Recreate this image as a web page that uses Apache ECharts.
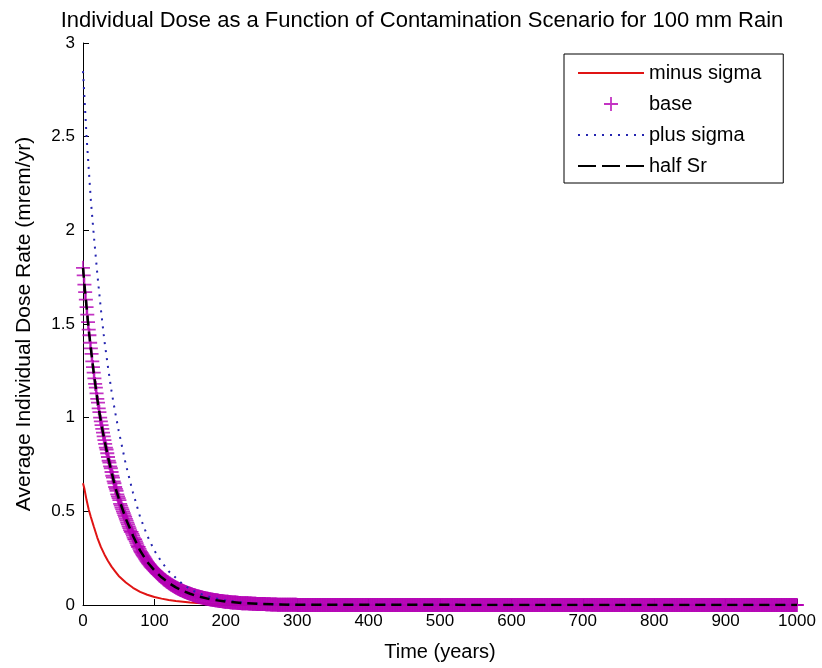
<!DOCTYPE html>
<html>
<head>
<meta charset="utf-8">
<script src="https://cdn.jsdelivr.net/npm/echarts@6/dist/echarts.min.js"></script>
<style>html,body{margin:0;padding:0;background:#fff}#c{width:822px;height:668px}</style>
</head>
<body>
<div id="c"></div>
<script>
// ---- data ----
const chartTitle = 'Individual Dose as a Function of Contamination Scenario for 100 mm Rain';
const xTitle = 'Time (years)';
const yTitle = 'Average Individual Dose Rate (mrem/yr)';
const seriesNames = ['minus sigma', 'base', 'plus sigma', 'half Sr'];

// years for the line series (minus sigma, plus sigma, half Sr)
const lineYears = [0,2,5,8,11,15,20,25,30,35,40,45,50,60,70,80,90,100,110,120,130,140,150,160,180,200,225,250,300,1000];
const minusSigma = [0.65,0.62,0.56,0.51,0.47,0.42,0.36,0.31,0.27,0.235,0.205,0.18,0.155,0.12,0.092,0.07,0.055,0.043,0.034,0.027,0.021,0.017,0.013,0.011,0.007,0.004,0.002,0.001,0,0];
const plusSigma  = [2.85,2.71,2.50,2.33,2.16,1.98,1.77,1.58,1.41,1.27,1.14,1.03,0.93,0.75,0.60,0.47,0.37,0.29,0.23,0.18,0.145,0.11,0.085,0.065,0.04,0.024,0.012,0.006,0.001,0];
const halfSr     = [1.80,1.71,1.59,1.47,1.37,1.24,1.10,0.98,0.88,0.79,0.71,0.63,0.57,0.46,0.37,0.29,0.23,0.185,0.148,0.118,0.094,0.075,0.06,0.047,0.029,0.018,0.01,0.005,0.001,0];

// base: one '+' marker per year, years 0..1000
const baseFirstYear = 0;
const baseYearStep = 1;
const baseDose = [
1.80,1.76,1.71,1.67,1.63,1.59,1.55,1.51,1.47,1.44,
1.40,1.37,1.34,1.30,1.27,1.24,1.21,1.18,1.16,1.13,
1.10,1.08,1.05,1.03,1.00,0.98,0.96,0.94,0.92,0.90,
0.88,0.86,0.84,0.83,0.81,0.79,0.77,0.76,0.74,0.73,
0.71,0.69,0.68,0.66,0.65,0.63,0.62,0.61,0.59,0.58,
0.57,0.56,0.54,0.53,0.52,0.51,0.50,0.49,0.48,0.47,
0.46,0.45,0.44,0.43,0.42,0.41,0.40,0.39,0.39,0.38,
0.37,0.36,0.35,0.35,0.34,0.33,0.32,0.31,0.31,0.30,
0.29,0.284,0.278,0.271,0.265,0.26,0.254,0.248,0.242,0.236,
0.23,0.225,0.22,0.215,0.21,0.205,0.201,0.197,0.193,0.189,
0.185,0.181,0.177,0.173,0.169,0.165,0.162,0.158,0.155,0.151,
0.148,0.145,0.141,0.138,0.135,0.132,0.129,0.126,0.123,0.121,
0.118,0.115,0.113,0.11,0.108,0.105,0.103,0.101,0.098,0.096,
0.094,0.092,0.09,0.088,0.086,0.084,0.082,0.08,0.079,0.077,
0.075,0.073,0.072,0.07,0.069,0.067,0.066,0.064,0.063,0.061,
0.06,0.059,0.057,0.056,0.054,0.053,0.052,0.051,0.049,0.048,
0.047,0.046,0.045,0.044,0.043,0.042,0.041,0.04,0.039,0.038,
0.037,0.036,0.035,0.035,0.034,0.033,0.032,0.031,0.031,0.03,
0.029,0.028,0.028,0.027,0.027,0.026,0.025,0.025,0.024,0.024,
0.023,0.022,0.022,0.021,0.021,0.02,0.02,0.019,0.019,0.018,
0.018,0.018,0.017,0.017,0.016,0.016,0.015,0.015,0.015,0.014,
0.014,0.014,0.013,0.013,0.013,0.012,0.012,0.012,0.011,0.011,
0.011,0.011,0.01,0.01,0.01,0.01,0.01,0.009,0.009,0.009,
0.009,0.009,0.008,0.008,0.008,0.008,0.008,0.007,0.007,0.007,
0.007,0.007,0.007,0.006,0.006,0.006,0.006,0.006,0.005,0.005,
0.005,0.005,0.005,0.005,0.005,0.005,0.004,0.004,0.004,0.004,
0.004,0.004,0.004,0.003,0.003,0.003,0.003,0.003,0.003,0.003,
0.003,0.003,0.002,0.002,0.002,0.002,0.002,0.002,0.002,0.002,
0.002,0.002,0.002,0.002,0.002,0.002,0.002,0.002,0.002,0.002,
0.001,0.001,0.001,0.001,0.001,0.001,0.001,0.001,0.001,0.001,
0,0,0,0,0,0,0,0,0,0,0,0,0,0,0,0,0,0,0,0,0,0,0,0,0,0,0,0,0,0,0,0,0,0,0,0,0,0,0,0,0,0,0,0,0,0,0,0,0,0,
0,0,0,0,0,0,0,0,0,0,0,0,0,0,0,0,0,0,0,0,0,0,0,0,0,0,0,0,0,0,0,0,0,0,0,0,0,0,0,0,0,0,0,0,0,0,0,0,0,0,
0,0,0,0,0,0,0,0,0,0,0,0,0,0,0,0,0,0,0,0,0,0,0,0,0,0,0,0,0,0,0,0,0,0,0,0,0,0,0,0,0,0,0,0,0,0,0,0,0,0,
0,0,0,0,0,0,0,0,0,0,0,0,0,0,0,0,0,0,0,0,0,0,0,0,0,0,0,0,0,0,0,0,0,0,0,0,0,0,0,0,0,0,0,0,0,0,0,0,0,0,
0,0,0,0,0,0,0,0,0,0,0,0,0,0,0,0,0,0,0,0,0,0,0,0,0,0,0,0,0,0,0,0,0,0,0,0,0,0,0,0,0,0,0,0,0,0,0,0,0,0,
0,0,0,0,0,0,0,0,0,0,0,0,0,0,0,0,0,0,0,0,0,0,0,0,0,0,0,0,0,0,0,0,0,0,0,0,0,0,0,0,0,0,0,0,0,0,0,0,0,0,
0,0,0,0,0,0,0,0,0,0,0,0,0,0,0,0,0,0,0,0,0,0,0,0,0,0,0,0,0,0,0,0,0,0,0,0,0,0,0,0,0,0,0,0,0,0,0,0,0,0,
0,0,0,0,0,0,0,0,0,0,0,0,0,0,0,0,0,0,0,0,0,0,0,0,0,0,0,0,0,0,0,0,0,0,0,0,0,0,0,0,0,0,0,0,0,0,0,0,0,0,
0,0,0,0,0,0,0,0,0,0,0,0,0,0,0,0,0,0,0,0,0,0,0,0,0,0,0,0,0,0,0,0,0,0,0,0,0,0,0,0,0,0,0,0,0,0,0,0,0,0,
0,0,0,0,0,0,0,0,0,0,0,0,0,0,0,0,0,0,0,0,0,0,0,0,0,0,0,0,0,0,0,0,0,0,0,0,0,0,0,0,0,0,0,0,0,0,0,0,0,0,
0,0,0,0,0,0,0,0,0,0,0,0,0,0,0,0,0,0,0,0,0,0,0,0,0,0,0,0,0,0,0,0,0,0,0,0,0,0,0,0,0,0,0,0,0,0,0,0,0,0,
0,0,0,0,0,0,0,0,0,0,0,0,0,0,0,0,0,0,0,0,0,0,0,0,0,0,0,0,0,0,0,0,0,0,0,0,0,0,0,0,0,0,0,0,0,0,0,0,0,0,
0,0,0,0,0,0,0,0,0,0,0,0,0,0,0,0,0,0,0,0,0,0,0,0,0,0,0,0,0,0,0,0,0,0,0,0,0,0,0,0,0,0,0,0,0,0,0,0,0,0,
0,0,0,0,0,0,0,0,0,0,0,0,0,0,0,0,0,0,0,0,0,0,0,0,0,0,0,0,0,0,0,0,0,0,0,0,0,0,0,0,0,0,0,0,0,0,0,0,0,0,
0
];

// axes
const xMin = 0, xMax = 1000, xInterval = 100;
const yMin = 0, yMax = 3, yInterval = 0.5;

// ---- build ----
const pairs = (xs, ys) => xs.map((x, i) => [x, ys[i]]);
const baseData = baseDose.map((v, i) => [baseFirstYear + i * baseYearStep, v]);
const plusPath = 'path://M6.1,0H7.9V6.1H14V7.9H7.9V14H6.1V7.9H0V6.1H6.1Z';
const FONT = '"Liberation Sans", Arial, sans-serif';
const hidden = {opacity: 0};

const chart = echarts.init(document.getElementById('c'), null, {renderer: 'canvas'});
chart.setOption({
  animation: false,
  backgroundColor: '#ffffff',
  title: {
    text: chartTitle,
    left: 417, top: 5, textAlign: 'center',
    textStyle: {fontFamily: FONT, fontSize: 22, fontWeight: 'normal', color: '#000'}
  },
  grid: {left: 83, right: 25, top: 43, bottom: 63, containLabel: false, outerBoundsMode: 'none'},
  legend: {
    orient: 'vertical',
    left: 564, top: 54,
    padding: [9, 22, 7, 13],
    itemWidth: 66, itemHeight: 14, itemGap: 11,
    borderColor: '#000', borderWidth: 1, backgroundColor: '#fff',
    textStyle: {fontFamily: FONT, fontSize: 20, color: '#000'},
    data: [
      {name: seriesNames[0], itemStyle: hidden},
      {name: seriesNames[1]},
      {name: seriesNames[2], itemStyle: hidden},
      {name: seriesNames[3], itemStyle: hidden, lineStyle: {type: [18, 6]}}
    ]
  },
  xAxis: {
    type: 'value', min: xMin, max: xMax, interval: xInterval,
    name: xTitle, nameLocation: 'middle', nameGap: 37,
    nameTextStyle: {fontFamily: FONT, fontSize: 20, color: '#000'},
    axisLine: {show: true, onZero: false, lineStyle: {color: '#000', width: 1}},
    axisTick: {show: true, inside: true, length: 6, lineStyle: {color: '#000'}},
    axisLabel: {fontFamily: FONT, fontSize: 17, color: '#000', margin: 8, formatter: v => String(v)},
    splitLine: {show: false}
  },
  yAxis: {
    type: 'value', min: yMin, max: yMax, interval: yInterval,
    name: yTitle, nameLocation: 'middle', nameGap: 48,
    nameTextStyle: {fontFamily: FONT, fontSize: 21, color: '#000'},
    axisLine: {show: true, onZero: false, lineStyle: {color: '#000', width: 1}},
    axisTick: {show: true, inside: true, length: 6, lineStyle: {color: '#000'}},
    axisLabel: {fontFamily: FONT, fontSize: 17, color: '#000', margin: 8, formatter: v => String(v)},
    splitLine: {show: false}
  },
  series: [
    {
      name: seriesNames[0], type: 'line', data: pairs(lineYears, minusSigma),
      showSymbol: false, symbol: 'none', color: '#e01414',
      lineStyle: {color: '#e01414', width: 2}, z: 2
    },
    {
      name: seriesNames[1], type: 'scatter', data: baseData,
      symbol: plusPath, symbolSize: 14, symbolKeepAspect: true, clip: false,
      color: '#b400b4', itemStyle: {color: '#b400b4'}, z: 3
    },
    {
      name: seriesNames[2], type: 'line', data: pairs(lineYears, plusSigma),
      showSymbol: false, symbol: 'none', color: '#2424b0',
      lineStyle: {color: '#2424b0', width: 2, type: [2, 6]}, z: 4
    },
    {
      name: seriesNames[3], type: 'line', data: pairs(lineYears, halfSr),
      showSymbol: false, symbol: 'none', color: '#000',
      lineStyle: {color: '#000', width: 2.5, type: [10, 6]}, z: 5
    }
  ]
});
</script>
</body>
</html>
